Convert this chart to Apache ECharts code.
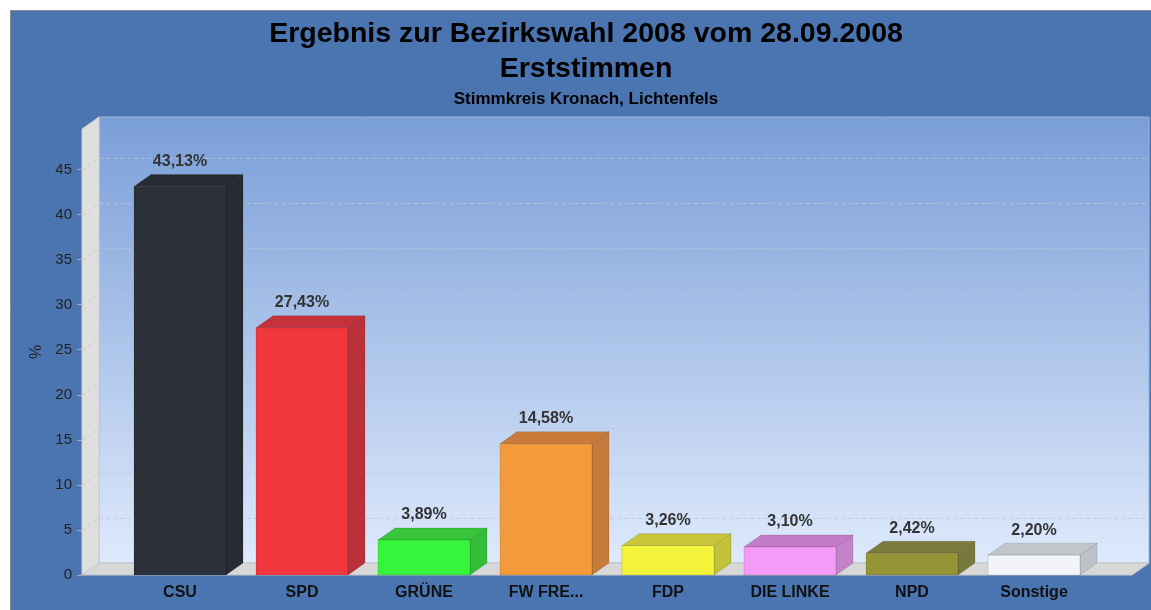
<!DOCTYPE html>
<html>
<head>
<meta charset="utf-8">
<script src="https://cdn.jsdelivr.net/npm/echarts@6/dist/echarts.min.js"></script>
<style>
  html, body { margin: 0; padding: 0; background: #fff; }
  #chart { width: 1151px; height: 610px; }
</style>
</head>
<body>
<div id="chart"></div>
<script>
var categories = ['CSU', 'SPD', 'GRÜNE', 'FW FRE...', 'FDP', 'DIE LINKE', 'NPD', 'Sonstige'];
var values = [43.13, 27.43, 3.89, 14.58, 3.26, 3.10, 2.42, 2.20];
var yTicks = [5, 10, 15, 20, 25, 30, 35, 40, 45];

// front / side / top colours of each bar
var frontColors = ['#2c3038', '#f0373d', '#35f53c', '#f29a3c', '#f4f43c', '#f59af6', '#949436', '#f3f4f7'];
var sideColors  = ['#262a31', '#b9323a', '#33bd38', '#c57b3b', '#c2c23a', '#c482c8', '#78793c', '#bfc2c8'];
var topColors   = ['#262a31', '#c5313a', '#38c53b', '#c97b3a', '#c8c53a', '#c57cc8', '#7a7a3d', '#c2c5ca'];

var DX = 17, DY = 12, PAD = 37, BAR_W = 92;
var FONT = 'Liberation Sans, Arial, sans-serif';

function fmt(v) {
    return v.toFixed(2).replace('.', ',') + '%';
}

function renderRoom(params, api) {
    var cs = params.coordSys;
    var x0 = cs.x - PAD, x1 = cs.x + cs.width + PAD;
    var yTop = cs.y, yBot = cs.y + cs.height;
    var children = [];
    children.push({
        type: 'rect',
        shape: { x: x0 + DX, y: yTop - DY, width: x1 - x0, height: yBot - yTop },
        style: {
            fill: new echarts.graphic.LinearGradient(0, 0, 0, 1, [
                { offset: 0, color: '#7a9ed8' },
                { offset: 1, color: '#deeafc' }
            ]),
            stroke: '#9db3d6',
            lineWidth: 1
        }
    });
    children.push({
        type: 'polygon',
        shape: { points: [[x0, yTop], [x0 + DX, yTop - DY], [x0 + DX, yBot - DY], [x0, yBot]] },
        style: { fill: '#dfdfdf', stroke: '#cfcfcf', lineWidth: 1 }
    });
    children.push({
        type: 'polygon',
        shape: { points: [[x0, yBot], [x0 + DX, yBot - DY], [x1 + DX, yBot - DY], [x1, yBot]] },
        style: { fill: '#d8d8d8', stroke: '#c8c8c8', lineWidth: 1 }
    });
    yTicks.forEach(function (t) {
        var y = Math.round(api.coord([0, t])[1]) + 0.5;
        children.push({
            type: 'polyline',
            shape: { points: [[x0, y], [x0 + DX, y - DY], [x1 + DX, y - DY]] },
            style: { stroke: 'rgba(190,198,210,0.75)', lineWidth: 1, lineDash: [4, 3], fill: null }
        });
    });
    return { type: 'group', children: children };
}

function renderBar(params, api) {
    var i = api.value(0), v = api.value(1);
    var base = api.coord([i, 0]);
    var top = api.coord([i, v]);
    var cx = base[0];
    var l = cx - BAR_W / 2, r = cx + BAR_W / 2;
    var yb = base[1], yt = top[1];
    return {
        type: 'group',
        children: [
            {
                type: 'polygon',
                shape: { points: [[r, yt], [r + DX, yt - DY], [r + DX, yb - DY], [r, yb]] },
                style: { fill: sideColors[i], stroke: 'rgba(0,0,0,0.12)', lineWidth: 1 }
            },
            {
                type: 'polygon',
                shape: { points: [[l, yt], [l + DX, yt - DY], [r + DX, yt - DY], [r, yt]] },
                style: { fill: topColors[i], stroke: 'rgba(0,0,0,0.12)', lineWidth: 1 }
            },
            {
                type: 'rect',
                shape: { x: l, y: yt, width: BAR_W, height: yb - yt },
                style: { fill: frontColors[i], stroke: 'rgba(0,0,0,0.12)', lineWidth: 1 }
            },
            {
                type: 'text',
                style: {
                    text: fmt(v),
                    x: cx,
                    y: yt - DY - 5,
                    align: 'center',
                    verticalAlign: 'bottom',
                    fill: '#333',
                    font: 'bold 16px ' + FONT
                }
            }
        ]
    };
}

var chart = echarts.init(document.getElementById('chart'), null, { renderer: 'canvas' });
chart.setOption({
    backgroundColor: '#fff',
    animation: false,
    graphic: [{
        type: 'rect',
        left: 10, top: 10,
        shape: { width: 1141, height: 600 },
        style: { fill: '#4b75b1', stroke: '#8c8c8c', lineWidth: 1 },
        z: -10
    }],
    title: {
        text: 'Ergebnis zur Bezirkswahl 2008 vom 28.09.2008\nErststimmen',
        subtext: 'Stimmkreis Kronach, Lichtenfels',
        left: 581,
        textAlign: 'center',
        top: 12,
        padding: 5,
        itemGap: 4,
        textStyle: { fontFamily: FONT, fontSize: 28.5, fontWeight: 'bold', color: '#000', lineHeight: 35 },
        subtextStyle: { fontFamily: FONT, fontSize: 17, fontWeight: 'bold', color: '#000' }
    },
    grid: { left: 119, width: 976, top: 129, bottom: 35 },
    xAxis: {
        type: 'category',
        data: categories,
        axisLine: { show: false },
        axisTick: { show: false },
        axisLabel: { color: '#111', fontFamily: FONT, fontSize: 16, fontWeight: 'bold', margin: 10 }
    },
    yAxis: {
        type: 'value',
        min: 0,
        max: 49.5,
        interval: 5,
        offset: PAD,
        name: '%',
        nameLocation: 'middle',
        nameGap: 34,
        nameTextStyle: { color: '#222', fontFamily: FONT, fontSize: 16 },
        axisLine: { show: true, lineStyle: { color: '#b8b8b8' } },
        axisTick: { show: true, length: 5, lineStyle: { color: '#aaa' } },
        axisLabel: { color: '#222', fontFamily: FONT, fontSize: 15, margin: 10, showMaxLabel: false },
        splitLine: { show: false }
    },
    series: [
        {
            type: 'custom',
            renderItem: renderRoom,
            data: [[0, 0]],
            silent: true,
            z: 1
        },
        {
            type: 'custom',
            renderItem: renderBar,
            data: values.map(function (v, i) { return [i, v]; }),
            z: 2
        }
    ]
});
</script>
</body>
</html>
